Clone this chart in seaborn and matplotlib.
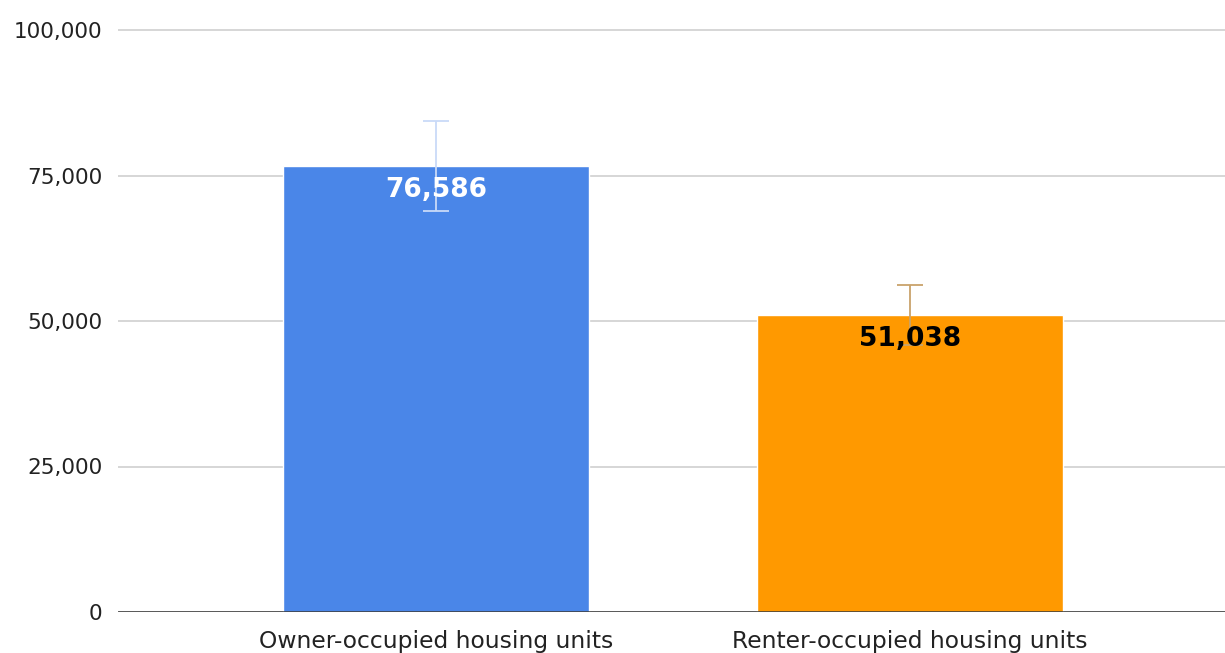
import matplotlib
matplotlib.use("Agg")
import matplotlib.pyplot as plt
import seaborn as sns
import pandas as pd
from matplotlib.ticker import FuncFormatter

categories = ["Owner-occupied housing units", "Renter-occupied housing units"]
values = [76586, 51038]
errors = [7700, 5200]
bar_colors = ["#4a86e8", "#ff9900"]
error_colors = ["#c9daf8", "#c9a36b"]
label_colors = ["white", "black"]
yticks = [0, 25000, 50000, 75000, 100000]

sns.set_style("white")
plt.rcParams['font.family'] = ['DejaVu Sans']

df = pd.DataFrame({"category": categories, "value": values})

W, H = 1225, 653
fig = plt.figure(figsize=(W / 100, H / 100), dpi=100)
left_px, right_px, bottom_px = 118, 1225, 612
ytop = 100600
px_per_unit = 582 / 100000
height_px = ytop * px_per_unit
ax = fig.add_axes([left_px / W, 1 - bottom_px / H, (right_px - left_px) / W, height_px / H])

sns.barplot(data=df, x="category", y="value", hue="category", palette=bar_colors,
            width=0.645, legend=False, ax=ax, saturation=1, zorder=2)

xs = list(range(len(categories)))
for x, v, e, ec in zip(xs, values, errors, error_colors):
    ax.errorbar([x], [v], yerr=[e], fmt="none", ecolor=ec, elinewidth=1.3,
                capsize=9.4, capthick=1.3, zorder=3)

for x, v, lc in zip(xs, values, label_colors):
    ax.text(x, v - 4100, f"{v:,}", ha="center", va="center", fontsize=19,
            fontweight="heavy", color=lc, zorder=4)

ax.set_xlim(-0.671, 1.665)
ax.set_ylim(0, ytop)
ax.set_yticks(yticks)
ax.yaxis.set_major_formatter(FuncFormatter(lambda v, p: f"{int(v):,}"))
ax.grid(axis="y", color="#cccccc", linewidth=1.1, zorder=0)
ax.set_axisbelow(True)
for s in ax.spines.values():
    s.set_visible(False)
ax.axhline(0, color="#333333", linewidth=1.8, zorder=5)
ax.tick_params(axis="y", length=0, pad=11, labelsize=15.5, labelcolor="#222222")
ax.tick_params(axis="x", length=0, pad=13, labelsize=16.8, labelcolor="#222222")
ax.set_xlabel("")
ax.set_ylabel("")

fig.savefig("out.png", dpi=100)
